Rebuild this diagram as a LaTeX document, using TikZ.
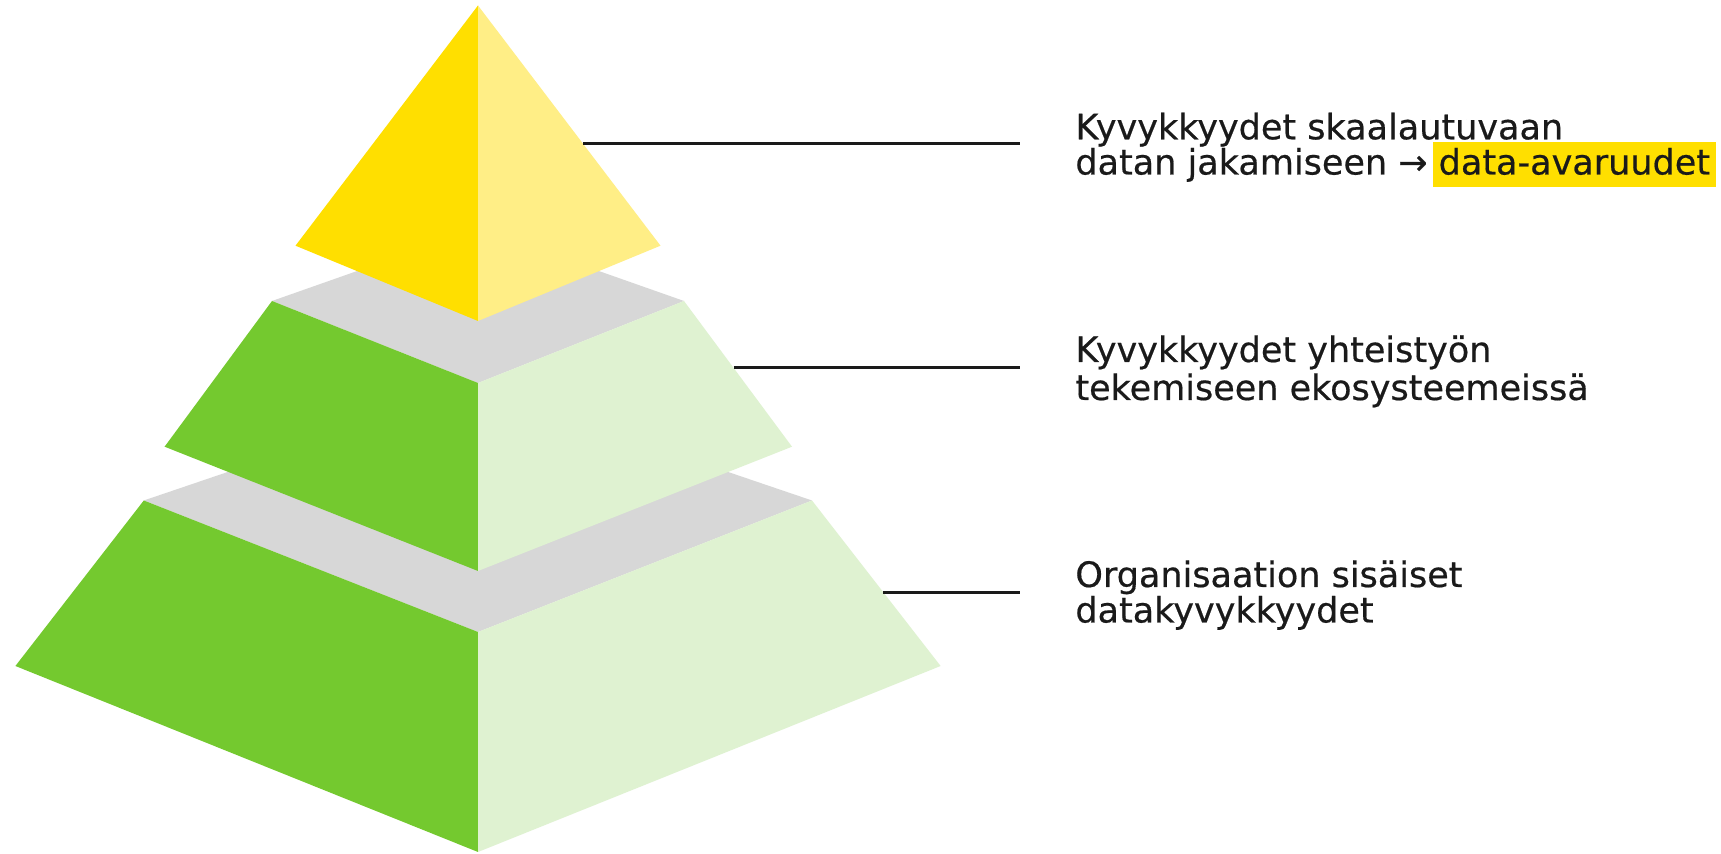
\documentclass[tikz,border=0pt]{standalone}
\usepackage{fontspec}
\setmainfont{DejaVu Sans}[FakeBold=0.5]
\definecolor{ydark}{HTML}{FFDF00}
\definecolor{ylight}{HTML}{FFEE86}
\definecolor{gdark}{HTML}{74C92F}
\definecolor{glight}{HTML}{DFF2D1}
\definecolor{topgray}{HTML}{D7D7D7}
\definecolor{hl}{HTML}{FFDF00}
\definecolor{ink}{HTML}{1A1A1A}
\begin{document}
\begin{tikzpicture}[x=0.5pt,y=-0.5pt,
  face/.style={draw=none},
  conn/.style={draw=ink,line width=1.65pt,shorten >=27.5pt},
  lbl/.style={anchor=base west,inner sep=0pt,text=ink,font=\fontsize{17.5pt}{17.75pt}\selectfont}]
\useasboundingbox[fill=white] (0,0) rectangle (1721,854);
% bottom layer
\fill[topgray] (143.8,500.5) -- (478,387) -- (812,500.5) -- (478,632) -- cycle;
\fill[gdark] (143.8,500.5) -- (478,632) -- (478,852) -- (15.4,666) -- cycle;
\fill[glight] (812,500.5) -- (478,632) -- (478,852) -- (940.6,666) -- cycle;
% middle layer
\fill[topgray] (272,301) -- (478,228.5) -- (684,301) -- (478,383) -- cycle;
\fill[gdark] (272,301) -- (478,383) -- (478,571) -- (164.6,446.7) -- cycle;
\fill[glight] (684,301) -- (478,383) -- (478,571) -- (792,446.7) -- cycle;
% top
\fill[ydark] (478,5.5) -- (295.5,245.7) -- (478,321) -- cycle;
\fill[ylight] (478,5.5) -- (660.5,245.7) -- (478,321) -- cycle;
% edge points
\coordinate (e1) at (583.3,143.8);
\coordinate (e2) at (733.5,367.7);
\coordinate (e3) at (883.3,592.5);
% labels
\node[lbl] (t1a) at (1075,139.3) {Kyvykkyydet skaalautuvaan};
\node[lbl] (t1b) at (1075,174.5) {datan jakamiseen →\hspace{-3pt} {\setlength\fboxsep{3pt}\colorbox{hl}{\rule[-3.5pt]{0pt}{14.5pt}data-avaruudet}}};
\node[lbl] (t2a) at (1075,362) {Kyvykkyydet yhteistyön};
\node[lbl] (t2b) at (1075,400) {tekemiseen ekosysteemeissä};
\node[lbl] (t3a) at (1075,587) {Organisaation sisäiset};
\node[lbl] (t3b) at (1075,622.5) {datakyvykkyydet};
% connectors
\draw[conn] (e1) -- (e1 -| t1a.west);
\draw[conn] (e2) -- (e2 -| t2a.west);
\draw[conn] (e3) -- (e3 -| t3a.west);
\end{tikzpicture}
\end{document}
